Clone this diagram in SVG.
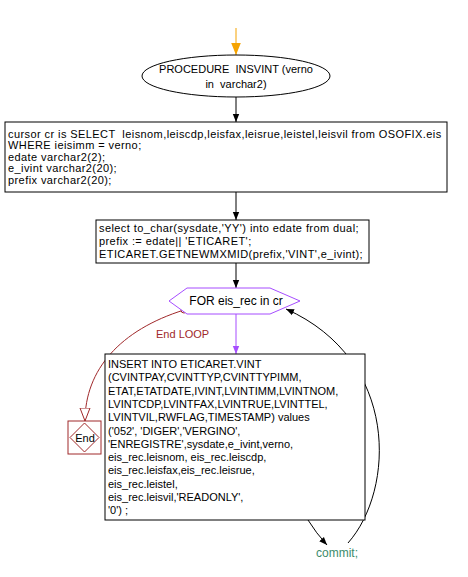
<svg xmlns="http://www.w3.org/2000/svg" width="468" height="577" viewBox="0 0 468 577">
<style>
text{font-family:"Liberation Sans",Arial,sans-serif;font-size:11px;fill:#000;white-space:pre}
.t12{font-size:12px}
.ls{letter-spacing:0.42px}
.box{fill:#fff;stroke:#000;stroke-width:1}
.c{stroke:#000;fill:none;stroke-width:1}
.red{fill:#a0282a}
</style>
<defs>
<marker id="ab" viewBox="0 0 10 10" refX="10" refY="5" markerWidth="8" markerHeight="10" markerUnits="userSpaceOnUse" orient="auto"><path d="M0,1 L10,5 L0,9 Z" fill="#000"/></marker>
<marker id="ap" viewBox="0 0 10 10" refX="10" refY="5" markerWidth="8" markerHeight="10" markerUnits="userSpaceOnUse" orient="auto"><path d="M0,1 L10,5 L0,9 Z" fill="#a64dff"/></marker>
<marker id="ao" viewBox="0 0 14 14" refX="13" refY="7" markerWidth="14" markerHeight="14" markerUnits="userSpaceOnUse" orient="auto"><path d="M0,2 L13,7 L0,12 Z" fill="#fff" stroke="#a0282a"/></marker>
<marker id="ay" viewBox="0 0 10 10" refX="10" refY="5" markerWidth="12" markerHeight="12" markerUnits="userSpaceOnUse" orient="auto"><path d="M0,1 L10,5 L0,9 Z" fill="#f5a300"/></marker>
</defs>
<g id="connectors">
<line x1="236" y1="28" x2="236" y2="55" stroke="#f5a300" stroke-width="1" marker-end="url(#ay)"/>
<line class="c" x1="236" y1="97" x2="236" y2="122" marker-end="url(#ab)"/>
<line class="c" x1="236" y1="192" x2="236" y2="220" marker-end="url(#ab)"/>
<line class="c" x1="236" y1="263" x2="236" y2="288" marker-end="url(#ab)"/>
<line x1="236" y1="314" x2="236" y2="354" stroke="#a64dff" stroke-width="1" marker-end="url(#ap)"/>
<path d="M184,310 C120,330 85,370 85,421" fill="none" stroke="#a0282a" marker-end="url(#ao)"/>
<circle cx="184" cy="310" r="3" fill="#fff" stroke="#a0282a"/>
<text x="156" y="338" class="red" font-size="12.5">End LOOP</text>
<path class="c" d="M308,520 Q316,533 327,545" marker-end="url(#ab)"/>
<path class="c" d="M348,543 C395,490 400,360 286,309" marker-end="url(#ab)"/>
</g>
<g id="start">
<ellipse cx="236" cy="76" rx="94" ry="21" fill="#fff" stroke="#000"/>
<text x="236" y="73" text-anchor="middle">PROCEDURE  INSVINT (verno</text>
<text x="236" y="88" text-anchor="middle">in  varchar2)</text>
</g>
<g id="decl">
<rect class="box" x="5" y="122" width="442" height="70"/>
<text class="ls" x="8" y="137.5">cursor cr is SELECT  leisnom,leiscdp,leisfax,leisrue,leistel,leisvil from OSOFIX.eis</text>
<text class="ls" x="8" y="149">WHERE ieisimm = verno;</text>
<text class="ls" x="8" y="160.5">edate varchar2(2);</text>
<text class="ls" x="8" y="172">e_ivint varchar2(20);</text>
<text class="ls" x="8" y="183.5">prefix varchar2(20);</text>
</g>
<g id="init">
<rect class="box" x="96" y="220" width="273" height="43"/>
<text class="ls" x="99" y="232">select to_char(sysdate,'YY') into edate from dual;</text>
<text class="ls" x="99" y="245">prefix := edate|| 'ETICARET';</text>
<text class="ls" x="99" y="258">ETICARET.GETNEWMXMID(prefix,'VINT',e_ivint);</text>
</g>
<g id="loop">
<polygon points="169,301 187,288 270,288 300,301 270,314 187,314" fill="#fff" stroke="#a64dff"/>
<text class="t12" x="236" y="305" text-anchor="middle">FOR eis_rec in cr</text>
</g>
<g id="insert">
<rect class="box" x="105" y="354" width="260" height="166"/>
<text x="108" y="368">INSERT INTO ETICARET.VINT</text>
<text x="108" y="381.3">(CVINTPAY,CVINTTYP,CVINTTYPIMM,</text>
<text x="108" y="394.6">ETAT,ETATDATE,IVINT,LVINTIMM,LVINTNOM,</text>
<text x="108" y="407.9">LVINTCDP,LVINTFAX,LVINTRUE,LVINTTEL,</text>
<text x="108" y="421.2">LVINTVIL,RWFLAG,TIMESTAMP) values</text>
<text x="108" y="434.5">('052', 'DIGER','VERGINO',</text>
<text x="108" y="447.8">'ENREGISTRE',sysdate,e_ivint,verno,</text>
<text x="108" y="461.1">eis_rec.leisnom, eis_rec.leiscdp,</text>
<text x="108" y="474.4">eis_rec.leisfax,eis_rec.leisrue,</text>
<text x="108" y="487.7">eis_rec.leistel,</text>
<text x="108" y="501">eis_rec.leisvil,'READONLY',</text>
<text x="108" y="514.3">'0') ;</text>
</g>
<g id="end">
<rect x="68" y="421" width="33" height="33" fill="#fff" stroke="#a0282a"/>
<polygon points="84.5,423 99,437.5 84.5,452 70,437.5" fill="none" stroke="#a0282a"/>
<text x="85" y="442" text-anchor="middle">End</text>
</g>
<g id="commit">
<text class="t12" x="316" y="557" style="fill:#3c8c6c">commit;</text>
</g>
</svg>
